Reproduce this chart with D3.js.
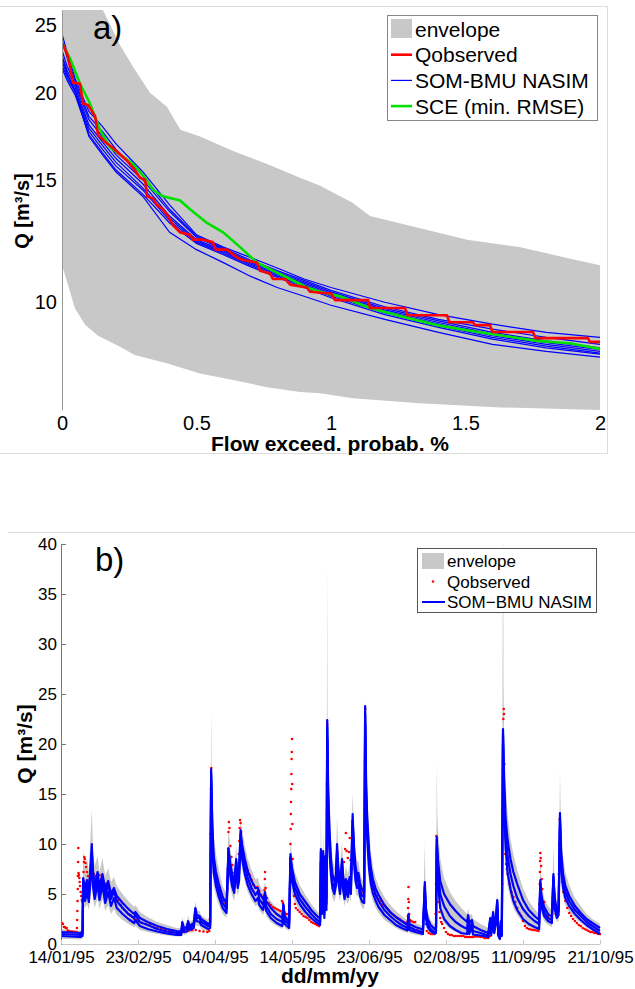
<!DOCTYPE html>
<html>
<head>
<meta charset="utf-8">
<script src="https://d3js.org/d3.v7.min.js"></script>
<style>
  body { margin: 0; background: #fff; }
  svg text { font-family: "Liberation Sans", Arial, sans-serif; fill: #000; }
</style>
</head>
<body>
<div id="container"></div>
<script>
// ---------- a) flow duration curves ----------
const fdcProb = [0, 0.02, 0.05, 0.1, 0.15, 0.2, 0.3, 0.4, 0.5, 0.6, 0.7, 0.8, 0.9, 1.0, 1.2, 1.4, 1.6, 1.8, 2.0];
// SOM-BMU NASIM runs (one row per run, values at fdcProb)
const fdcRuns = [
  [24.3, 22.8, 20.9, 18.8, 17.9, 16.9, 15.4, 13.8, 12.5, 12.0, 11.6, 11.2, 10.8, 10.5, 10.0, 9.6, 9.3, 9.05, 8.9],
  [23.8, 22.4, 20.7, 18.5, 17.6, 16.6, 15.2, 13.6, 12.45, 11.95, 11.5, 11.1, 10.75, 10.4, 9.85, 9.45, 9.15, 8.9, 8.7],
  [23.0, 21.8, 20.5, 18.3, 17.3, 16.3, 15.0, 13.5, 12.4, 11.9, 11.45, 11.05, 10.7, 10.35, 9.8, 9.4, 9.05, 8.8, 8.6],
  [22.6, 21.5, 20.3, 18.0, 17.0, 16.1, 14.8, 13.3, 12.3, 11.85, 11.4, 11.0, 10.65, 10.3, 9.75, 9.35, 9.0, 8.75, 8.55],
  [22.2, 21.2, 20.1, 17.8, 16.8, 15.9, 14.6, 13.2, 12.25, 11.8, 11.35, 10.95, 10.6, 10.25, 9.7, 9.3, 8.95, 8.7, 8.5],
  [21.9, 21.0, 20.0, 17.6, 16.6, 15.7, 14.5, 13.1, 12.2, 11.75, 11.3, 10.9, 10.55, 10.2, 9.65, 9.25, 8.9, 8.65, 8.45],
  [21.7, 20.8, 19.8, 17.4, 16.4, 15.5, 14.3, 13.0, 12.15, 11.7, 11.25, 10.85, 10.5, 10.15, 9.6, 9.2, 8.85, 8.6, 8.42],
  [22.5, 21.3, 20.0, 17.3, 16.3, 15.4, 14.2, 12.6, 11.9, 11.4, 10.9, 10.5, 10.2, 9.9, 9.45, 9.05, 8.7, 8.5, 8.34]
];
const qObsFdc = [[0,23.6],[0.02,22.7],[0.03,21.8],[0.04,20.7],[0.067,20.6],[0.078,19.3],[0.097,19.2],[0.123,18.5],[0.134,17.4],[0.16,17.0],[0.186,16.7],[0.216,16.3],[0.24,16.0],[0.264,15.6],[0.29,15.1],[0.309,15.0],[0.316,14.2],[0.338,14.1],[0.353,13.8],[0.375,13.6],[0.394,13.3],[0.413,12.9],[0.439,12.6],[0.476,12.5],[0.487,12.3],[0.524,12.3],[0.56,12.2],[0.572,11.9],[0.613,11.9],[0.65,11.6],[0.673,11.5],[0.725,11.4],[0.736,11.1],[0.773,11.0],[0.784,10.8],[0.829,10.8],[0.848,10.6],[0.91,10.5],[0.922,10.35],[0.985,10.3],[1.0,10.3],[1.015,10.07],[1.138,10.07],[1.145,9.81],[1.275,9.81],[1.285,9.58],[1.431,9.58],[1.44,9.36],[1.528,9.36],[1.535,9.27],[1.591,9.27],[1.6,9.06],[1.751,9.06],[1.76,8.88],[1.955,8.88],[1.962,8.77],[2.0,8.77]];
const sceFdc = [[0,23.6],[0.03,22.4],[0.067,20.6],[0.104,19.3],[0.141,17.7],[0.178,16.7],[0.216,16.3],[0.264,15.8],[0.309,15.1],[0.338,14.5],[0.375,14.2],[0.439,14.0],[0.476,13.6],[0.539,13.0],[0.599,12.6],[0.662,12.0],[0.725,11.4],[0.784,11.1],[0.848,10.8],[0.911,10.5],[0.959,10.35],[1.033,10.2],[1.145,9.81],[1.268,9.53],[1.394,9.27],[1.517,9.1],[1.639,8.95],[1.766,8.8],[1.888,8.73],[2.0,8.57]];
const envUpperFdc = [[0,60],[0.1,33],[0.152,26.3],[0.216,23.4],[0.264,21.8],[0.327,20.0],[0.39,19.1],[0.44,17.7],[0.513,17.3],[0.636,16.5],[0.762,15.8],[0.885,15.1],[0.96,14.7],[1.08,13.9],[1.145,13.3],[1.32,12.8],[1.506,12.3],[1.7,12.0],[1.89,11.55],[2.0,11.3]];
const envLowerFdc = [[0,11.3],[0.022,10.6],[0.048,9.8],[0.086,9.28],[0.134,8.95],[0.223,8.6],[0.27,8.4],[0.39,8.17],[0.513,7.9],[0.636,7.73],[0.762,7.55],[0.885,7.43],[0.96,7.4],[1.08,7.28],[1.33,7.16],[1.63,7.06],[2.0,7.0]];
const fdcTicksX = [0, 0.5, 1, 1.5, 2];
const fdcTicksY = [10, 15, 20, 25];

// ---------- b) hydrograph, days after 14/01/95 ----------
const dateTicks = ["1995-01-14", "1995-02-23", "1995-04-04", "1995-05-14", "1995-06-23", "1995-08-02", "1995-09-11", "1995-10-21"];
const qTicks = [0, 5, 10, 15, 20, 25, 30, 35, 40];

const simMid = [[0,1.0],[5,0.95],[10,0.9],[11.2,1.0],[11.5,6.3],[12.5,5.0],[13.5,6.0],[14.5,4.8],[16,10.0],[16.6,6.8],[17.5,5.2],[19,6.8],[20,5.0],[21.5,6.8],[23,4.8],[24.5,6.0],[26,4.5],[27.5,5.3],[29,4.3],[32,3.6],[35,3.0],[38,2.6],[38.6,2.9],[41,2.2],[45,1.9],[50,1.5],[55,1.25],[60,1.1],[62.5,1.1],[63,2.1],[63.8,1.4],[65.5,1.5],[66,2.2],[66.8,1.6],[69,1.9],[69.8,3.5],[70.5,2.6],[72,2.6],[72.8,2.2],[76.5,1.8],[77.5,1.9],[78,17.5],[78.6,11.0],[79.3,8.0],[80.5,6.5],[82,5.3],[84,4.1],[86,3.5],[87,9.6],[88,7.5],[89,6.3],[90,5.6],[91,8.5],[91.8,6.2],[92.5,7.0],[93.3,11.4],[94,9.4],[95.5,7.8],[97,6.6],[99,5.6],[101,4.9],[102.3,5.3],[103,4.5],[105,3.9],[106,5.2],[106.6,3.8],[109,3.0],[112,2.5],[115,2.2],[115.5,4.0],[116.2,2.4],[118.5,1.9],[119.2,9.0],[120,7.0],[121.5,5.6],[124,4.5],[127,3.7],[130,3.0],[133,2.4],[134.6,2.2],[135,9.2],[135.6,3.5],[136.2,9.3],[136.8,3.0],[137.4,8.5],[137.9,4.0],[138.3,22.4],[138.8,14.0],[139.5,10.2],[140.3,7.5],[141,6.2],[142,5.6],[142.8,6.5],[143.4,10.0],[144,7.0],[145,5.5],[146,8.5],[146.6,6.0],[147.3,5.0],[148,6.2],[149,5.3],[150,6.5],[150.6,5.6],[151.5,13.0],[152.2,9.0],[153,7.0],[153.8,6.2],[154.5,6.8],[155.3,5.4],[156.5,4.8],[157.5,4.7],[158,23.8],[158.5,15.0],[159,12.0],[160,8.5],[161,6.8],[162,5.8],[163.5,4.9],[165,4.3],[168,3.4],[171,2.8],[174,2.3],[177,1.9],[180,1.6],[180.5,3.0],[181,1.7],[184,1.4],[188,1.2],[189,6.2],[189.6,3.0],[190.5,2.0],[192,1.5],[194,1.2],[194.8,1.3],[195.2,10.7],[195.8,7.5],[197,5.0],[199,3.8],[202,2.8],[205,2.2],[208,1.8],[211,1.5],[211.5,2.7],[212,1.5],[213.5,2.1],[214,1.3],[218,1.1],[222,0.85],[223,2.5],[223.5,1.2],[224.5,3.0],[225,1.5],[226,2.5],[226.6,4.4],[227.2,1.0],[228,0.6],[228.5,2.0],[229,1.0],[229.6,21.5],[230.2,15.0],[231,11.0],[232,8.8],[233.5,7.0],[235,5.8],[237,4.6],[240,3.5],[243,2.8],[246,2.3],[248.4,2.0],[249,6.4],[249.6,4.3],[251,3.2],[253,2.6],[255,2.4],[255.8,7.0],[256.5,4.0],[257.6,3.0],[258.5,3.3],[259.2,13.1],[259.8,8.5],[260.8,6.3],[262,5.2],[264,4.3],[267,3.4],[270,2.8],[273,2.2],[276,1.8],[280,1.3]];

const simHigh = [[0,1.2],[5,1.15],[10,1.1],[11.2,1.2],[11.5,6.6],[12.5,5.6],[13.5,6.4],[14.5,5.4],[16,9.2],[16.6,7.3],[17.5,5.9],[19,7.2],[20,5.7],[21.5,7.0],[23,5.5],[24.5,6.3],[26,5.0],[27.5,5.6],[29,4.8],[32,4.1],[35,3.5],[38,3.0],[38.6,3.2],[41,2.6],[45,2.2],[50,1.8],[55,1.5],[60,1.3],[62.5,1.25],[63,2.2],[63.8,1.6],[65.5,1.7],[66,2.3],[66.8,1.8],[69,2.1],[69.8,3.6],[70.5,2.9],[72,2.8],[72.8,2.5],[76.5,2.0],[77.5,2.1],[78,17.0],[78.6,12.0],[79.3,8.8],[80.5,7.2],[82,6.0],[84,4.7],[86,4.0],[87,9.3],[88,8.0],[89,6.9],[90,6.2],[91,8.2],[91.8,6.8],[92.5,7.4],[93.3,11.0],[94,10.0],[95.5,8.5],[97,7.3],[99,6.3],[101,5.6],[102.3,5.6],[103,5.1],[105,4.5],[106,5.0],[106.6,4.3],[109,3.6],[112,3.0],[115,2.6],[115.5,3.9],[116.2,2.8],[118.5,2.2],[119.2,8.7],[120,7.6],[121.5,6.2],[124,5.0],[127,4.2],[130,3.4],[133,2.8],[134.6,2.5],[135,9.5],[135.6,4.2],[136.2,9.0],[136.8,3.8],[137.4,8.8],[137.9,4.6],[138.3,21.8],[138.8,15.5],[139.5,11.2],[140.3,8.4],[141,7.0],[142,6.3],[142.8,6.8],[143.4,9.4],[144,7.7],[145,6.2],[146,8.2],[146.6,6.7],[147.3,5.7],[148,6.5],[149,5.9],[150,6.7],[150.6,6.2],[151.5,12.4],[152.2,9.8],[153,7.8],[153.8,6.9],[154.5,7.1],[155.3,6.1],[156.5,5.4],[157.5,5.2],[158,23.0],[158.5,16.2],[159,13.0],[160,9.4],[161,7.6],[162,6.5],[163.5,5.5],[165,4.9],[168,3.9],[171,3.2],[174,2.7],[177,2.3],[180,1.9],[180.5,2.8],[181,2.0],[184,1.7],[188,1.45],[189,5.8],[189.6,3.5],[190.5,2.5],[192,1.9],[194,1.5],[194.8,1.6],[195.2,10.2],[195.8,8.5],[197,6.3],[199,5.0],[202,4.0],[205,3.3],[208,2.7],[211,2.2],[211.5,2.9],[212,2.1],[213.5,2.4],[214,1.8],[218,1.4],[222,1.1],[223,2.6],[223.5,1.5],[224.5,3.2],[225,1.9],[226,2.8],[226.6,4.3],[227.2,1.4],[228,0.9],[228.5,2.3],[229,1.3],[229.6,21.0],[230.2,16.5],[231,12.5],[232,10.4],[233.5,8.5],[235,7.2],[237,6.0],[240,4.4],[243,3.4],[246,2.8],[248.4,2.4],[249,6.1],[249.6,4.8],[251,3.7],[253,3.0],[255,2.7],[255.8,6.7],[256.5,4.5],[257.6,3.4],[258.5,3.6],[259.2,12.6],[259.8,9.3],[260.8,7.0],[262,5.8],[264,4.8],[267,3.8],[270,3.1],[273,2.5],[276,2.1],[280,1.6]];

const simLow = [[0,0.8],[5,0.75],[10,0.7],[11.2,0.8],[11.5,5.8],[12.5,4.3],[13.5,5.2],[14.5,4.2],[16,8.5],[16.6,5.8],[17.5,4.5],[19,6.0],[20,4.4],[21.5,5.9],[23,4.1],[24.5,5.2],[26,3.8],[27.5,4.6],[29,3.6],[32,3.0],[35,2.5],[38,2.1],[38.6,2.4],[41,1.8],[45,1.5],[50,1.25],[55,1.05],[60,0.9],[62.5,0.9],[63,1.8],[63.8,1.2],[65.5,1.25],[66,1.9],[66.8,1.4],[69,1.6],[69.8,3.0],[70.5,2.3],[72,2.2],[72.8,1.9],[76.5,1.5],[77.5,1.6],[78,16.2],[78.6,10.0],[79.3,7.2],[80.5,5.8],[82,4.7],[84,3.6],[86,3.1],[87,8.6],[88,6.8],[89,5.7],[90,5.1],[91,7.5],[91.8,5.6],[92.5,6.3],[93.3,10.5],[94,8.6],[95.5,7.0],[97,5.9],[99,5.0],[101,4.3],[102.3,4.6],[103,3.9],[105,3.4],[106,4.4],[106.6,3.3],[109,2.6],[112,2.1],[115,1.8],[115.5,3.4],[116.2,2.0],[118.5,1.6],[119.2,8.2],[120,6.3],[121.5,5.0],[124,4.0],[127,3.2],[130,2.6],[133,2.1],[134.6,1.9],[135,8.2],[135.6,3.0],[136.2,8.4],[136.8,2.6],[137.4,7.6],[137.9,3.4],[138.3,20.5],[138.8,12.5],[139.5,9.2],[140.3,6.8],[141,5.6],[142,5.0],[142.8,5.8],[143.4,8.8],[144,6.3],[145,5.0],[146,7.6],[146.6,5.4],[147.3,4.5],[148,5.5],[149,4.7],[150,5.8],[150.6,5.0],[151.5,11.8],[152.2,8.2],[153,6.3],[153.8,5.6],[154.5,6.0],[155.3,4.8],[156.5,4.2],[157.5,4.1],[158,22.0],[158.5,13.8],[159,10.8],[160,7.6],[161,6.0],[162,5.1],[163.5,4.3],[165,3.7],[168,2.9],[171,2.4],[174,1.9],[177,1.6],[180,1.35],[180.5,2.5],[181,1.4],[184,1.2],[188,1.0],[189,5.3],[189.6,2.5],[190.5,1.7],[192,1.3],[194,1.05],[194.8,1.1],[195.2,9.6],[195.8,6.2],[197,3.6],[199,2.5],[202,1.8],[205,1.4],[208,1.1],[211,1.0],[211.5,2.2],[212,1.0],[213.5,1.7],[214,0.95],[218,0.85],[222,0.7],[223,2.1],[223.5,0.9],[224.5,2.5],[225,1.1],[226,2.1],[226.6,3.8],[227.2,0.8],[228,0.5],[228.5,1.6],[229,0.8],[229.6,20.0],[230.2,13.5],[231,9.5],[232,7.1],[233.5,5.5],[235,4.3],[237,3.4],[240,2.5],[243,2.0],[246,1.7],[248.4,1.5],[249,5.6],[249.6,3.7],[251,2.8],[253,2.3],[255,2.1],[255.8,6.1],[256.5,3.5],[257.6,2.6],[258.5,2.9],[259.2,11.8],[259.8,7.7],[260.8,5.6],[262,4.6],[264,3.8],[267,3.0],[270,2.4],[273,1.9],[276,1.5],[280,1.0]];

const envUpper = [[0,1.5],[5,1.4],[10,1.35],[11.2,1.5],[11.5,9.5],[12.5,7.5],[13.5,8.6],[14.5,7.2],[16,13.5],[16.6,9.4],[17.5,7.8],[19,8.8],[20,7.2],[21.5,8.6],[23,6.8],[24.5,7.6],[26,6.2],[27.5,6.7],[29,5.8],[32,5.0],[35,4.3],[38,3.7],[38.6,3.9],[41,3.2],[45,2.7],[50,2.2],[55,1.9],[60,1.6],[62.5,1.6],[63,2.7],[63.8,2.0],[65.5,2.1],[66,2.9],[66.8,2.2],[69,2.5],[69.8,4.3],[70.5,3.4],[72,3.3],[72.8,2.9],[76.5,2.4],[77.5,2.6],[78,23.6],[78.3,17],[78.6,15.0],[79.3,11.0],[80.5,9.0],[82,7.4],[84,5.8],[86,5.0],[87,11.8],[88,9.5],[89,8.2],[90,7.3],[91,9.8],[91.8,7.8],[92.5,8.4],[93.3,12.6],[94,11.5],[95.5,9.8],[97,8.5],[99,7.4],[101,6.5],[102.3,6.6],[103,6.0],[105,5.3],[106,6.2],[106.6,5.0],[109,4.3],[112,3.6],[115,3.2],[115.5,4.8],[116.2,3.3],[118.5,2.7],[119.2,10.6],[120,8.8],[121.5,7.2],[124,5.9],[127,4.9],[130,4.0],[133,3.3],[134.6,3.0],[135,13.2],[135.6,5.5],[136.2,11.5],[136.8,5.0],[137.4,10.8],[137.9,6.0],[138.3,38.1],[138.5,22],[138.8,17],[139.5,14.0],[140.3,10.5],[141,8.6],[142,7.6],[142.8,8.2],[143.4,12.7],[144,9.4],[145,7.6],[146,10.2],[146.6,8.0],[147.3,6.8],[148,7.8],[149,7.0],[150,8.0],[150.6,7.2],[151.5,15.2],[152.2,11.6],[153,9.2],[153.8,8.2],[154.5,8.4],[155.3,7.2],[156.5,6.4],[157.5,6.2],[158,24.7],[158.5,19.0],[159,15.5],[160,11.5],[161,9.2],[162,7.8],[163.5,6.6],[165,5.8],[168,4.7],[171,3.9],[174,3.3],[177,2.8],[180,2.4],[180.5,3.6],[181,2.5],[184,2.1],[188,1.8],[189,10.1],[189.4,5],[189.6,4.6],[190.5,3.2],[192,2.4],[194,1.9],[194.8,2.0],[195.2,18.1],[195.5,13],[195.8,11.5],[197,8.5],[199,6.6],[202,5.2],[205,4.3],[208,3.6],[211,3.0],[211.5,3.6],[212,2.9],[213.5,3.0],[214,2.5],[218,2.0],[222,1.6],[223,3.2],[223.5,2.0],[224.5,3.8],[225,2.5],[226,3.4],[226.6,5.3],[227.2,2.0],[228,1.3],[228.5,2.9],[229,1.9],[229.6,45],[229.9,26],[230.2,21.0],[231,16.0],[232,13.0],[233.5,10.5],[235,9.0],[237,7.4],[240,5.6],[243,4.3],[246,3.5],[248.4,3.0],[249,9.3],[249.6,6.0],[251,4.6],[253,3.8],[255,3.4],[255.8,9.7],[256.5,5.6],[257.6,4.3],[258.5,4.5],[259.2,17.3],[259.6,13],[259.8,12.0],[260.8,8.8],[262,7.2],[264,5.9],[267,4.6],[270,3.8],[273,3.0],[276,2.5],[280,2.0]];

const envLower = [[0,0.5],[5,0.5],[10,0.45],[11.2,0.5],[11.5,4.0],[12.5,3.6],[13.5,4.0],[14.5,3.4],[16,6.0],[16.6,4.5],[17.5,3.6],[19,4.6],[20,3.5],[21.5,4.5],[23,3.3],[24.5,3.9],[26,3.0],[27.5,3.5],[29,2.9],[32,2.4],[35,2.0],[38,1.7],[38.6,1.8],[41,1.4],[45,1.2],[50,1.0],[55,0.85],[60,0.75],[62.5,0.75],[63,1.2],[63.8,0.9],[65.5,1.0],[66,1.3],[66.8,1.1],[69,1.2],[69.8,2.2],[70.5,1.8],[72,1.8],[72.8,1.5],[76.5,1.2],[77.5,1.2],[78,11.0],[78.6,7.5],[79.3,5.8],[80.5,4.8],[82,3.9],[84,3.0],[86,2.6],[87,7.0],[88,5.6],[89,4.8],[90,4.3],[91,6.0],[91.8,4.8],[92.5,5.4],[93.3,8.8],[94,7.6],[95.5,6.2],[97,5.2],[99,4.4],[101,3.8],[102.3,3.9],[103,3.4],[105,2.9],[106,3.5],[106.6,2.8],[109,2.2],[112,1.8],[115,1.5],[115.5,2.5],[116.2,1.6],[118.5,1.3],[119.2,6.0],[120,5.0],[121.5,4.2],[124,3.4],[127,2.8],[130,2.2],[133,1.8],[134.6,1.6],[135,6.0],[135.6,2.4],[136.2,6.2],[136.8,2.2],[137.4,5.6],[137.9,2.8],[138.3,14.0],[138.8,9.5],[139.5,7.2],[140.3,5.6],[141,4.6],[142,4.2],[142.8,4.8],[143.4,6.8],[144,5.2],[145,4.2],[146,5.8],[146.6,4.5],[147.3,3.8],[148,4.4],[149,4.0],[150,4.6],[150.6,4.2],[151.5,9.0],[152.2,6.6],[153,5.3],[153.8,4.7],[154.5,5.0],[155.3,4.1],[156.5,3.6],[157.5,3.5],[158,15.0],[158.5,10.5],[159,8.5],[160,6.2],[161,5.0],[162,4.3],[163.5,3.6],[165,3.1],[168,2.4],[171,2.0],[174,1.6],[177,1.3],[180,1.1],[180.5,1.8],[181,1.1],[184,0.95],[188,0.8],[189,3.8],[189.6,1.9],[190.5,1.3],[192,1.0],[194,0.85],[194.8,0.9],[195.2,7.0],[195.8,4.8],[197,3.0],[199,2.1],[202,1.5],[205,1.2],[208,0.9],[211,0.8],[211.5,1.4],[212,0.8],[213.5,1.2],[214,0.75],[218,0.65],[222,0.5],[223,1.3],[223.5,0.6],[224.5,1.5],[225,0.8],[226,1.3],[226.6,2.5],[227.2,0.5],[228,0.35],[228.5,1.0],[229,0.5],[229.6,14.0],[230.2,10.5],[231,8.0],[232,5.8],[233.5,4.5],[235,3.6],[237,2.9],[240,2.1],[243,1.7],[246,1.4],[248.4,1.2],[249,4.0],[249.6,3.0],[251,2.3],[253,1.9],[255,1.7],[255.8,4.3],[256.5,2.8],[257.6,2.2],[258.5,2.3],[259.2,8.5],[259.8,6.2],[260.8,4.7],[262,3.9],[264,3.2],[267,2.6],[270,2.1],[273,1.6],[276,1.3],[280,0.9]];

const qObs = [[0,2.1],[0.5,2.1],[1,2.0],[1.5,1.7],[2,1.7],[2.5,1.6],[3,1.6],[3.5,1.35],[4,1.3],[5,1.25],[6,1.25],[7,1.2],[8,1.2],
[8.3,1.6],[8.4,2.4],[8.5,3.3],[8.6,4.3],[8.7,5.5],[8.8,6.8],[8.9,8.2],[9.0,9.6],[9.1,7.1],[9.3,6.9],[9.5,6.6],[9.7,6.2],[9.9,5.8],[10.2,5.2],[10.5,4.8],[10.8,4.4],[11.1,4.2],
[11.5,6.0],[11.7,7.2],[11.9,8.2],[12.1,8.7],[12.4,8.5],[12.7,8.1],[13,7.7],[13.5,7.2],[14,6.8],[15,6.5],[16,7.4],[17,7.0],[18,6.8],[19,7.0],[20,6.9],[21,6.2],[22,6.2],[23,6.0],[24,6.1],[25,5.6],[26,5.2],[27,5.0],[28,4.9],[29,4.4],[30,4.4],[31,3.9],[32,3.6],[33,3.4],[34,3.2],[35,3.0],[36,2.9],[37,2.7],[38,2.5],[39,2.4],[40,2.3],[42,2.1],[44,2.0],[46,1.9],[48,1.7],[50,1.6],[52,1.5],[54,1.4],[56,1.3],[58,1.2],[60,1.1],[62,1.1],[64,1.2],[66,1.3],[68,1.4],[70,1.4],[72,1.3],[74,1.25],[76,1.2],[77,1.3],
[77.3,2.5],[77.5,6],[77.7,11],[77.9,15.5],[78.1,17.6],[78.4,13],[78.8,10],[79.2,8.6],[79.6,7.6],[80,6.9],[81,6.1],[82,5.4],[83,4.7],[84,4.3],[85,4.0],[86,3.8],
[86.4,5.5],[86.6,7.5],[86.8,9.5],[87,11.2],[87.2,12.2],[87.5,11.6],[88,9.8],[88.5,8.7],[89,7.9],[90,7.1],[91,8.1],[92,7.6],
[92.4,9],[92.6,10.3],[92.8,11.6],[93,12.4],[93.3,12.1],[93.6,11.2],[94,10.2],[95,9.0],[96,8.1],[97,7.4],[98,6.9],[99,6.4],[100,5.9],[101,5.6],[102,5.7],[103,5.3],[104,4.9],[105,4.6],
[105.7,5.4],[105.9,6.5],[106,7.2],[106.3,5.6],[107,4.6],[108,4.1],[109,3.9],[110,3.7],[111,3.6],[112,3.5],[113,3.4],[114,3.3],[114.8,4.3],[115.3,4.1],[116,3.2],[117,3.0],[118,3.0],
[118.7,3.8],[118.9,5.5],[119,7],[119.1,8.5],[119.2,10],[119.3,11.5],[119.4,13],[119.5,14.2],[119.6,15.5],[119.7,17],[119.8,18.5],[119.9,19.2],[120,20.5],[120.1,16],[120.2,12],[120.4,8.5],[120.7,6],[121,4.8],[121.5,4.0],[122,3.6],[123,3.4],[124,3.2],[125,3.0],[126,2.8],[127,2.7],[128,2.6],[129,2.4],[130,2.2],[131,2.1],[132,2.0],[133,1.9],[134,1.8],
[135,8.0],[135.5,4],[136,8.6],[136.6,3.4],[137.3,8.0],[137.8,4.2],[138.1,16],[138.3,22.0],[138.6,15],[139,11.5],[139.5,9.8],[140.3,7.6],[141,6.5],[142,5.9],[143,7.8],[143.5,9.2],[144,7.0],[145,5.8],[146,7.6],[147,8.2],[147.6,9.5],[148,11.1],[148.4,9.3],[149,8.6],[149.6,9.2],[150,10.6],[150.4,8.4],[151,7.5],[151.5,12.2],[152,9.5],[153,7.5],[154,6.6],[155,6.0],[156,5.5],[157,5.2],
[157.7,12],[158,23.5],[158.3,18],[158.7,13.5],[159,11.5],[160,8.5],[161,6.8],[162,5.6],[163,5.0],[164,4.8],[165,4.5],[166,4.3],[167,4.0],[168,3.8],[169,3.6],[170,3.4],[171,3.2],[172,3.0],[173,2.85],[174,2.7],[175,2.55],[176,2.45],[177,2.3],[178,2.2],[179,2.1],
[180,2.2],[180.2,2.8],[180.3,3.6],[180.4,4.5],[180.5,5.7],[180.7,4.2],[180.9,3.0],[181.2,2.4],[181.5,2.3],[182,2.3],[183,2.2],[184,2.2],[185,1.4],[186,1.2],[187,1.1],[188,1.1],[189,3.5],[189.5,2.0],[190,1.3],[191,1.1],[192,1.0],[193,1.0],[194,1.0],
[194.6,3],[194.8,6],[195,10.8],[195.2,10.4],[195.5,8.5],[195.8,6.0],[196.2,4.2],[196.6,3.2],[197,2.6],[197.5,2.2],[198,2.0],[199,1.6],[200,1.2],[201,1.0],[202,0.9],[203,0.9],[204,0.8],[205,0.8],[206,0.8],[207,0.8],[208,0.8],[209,0.8],[210,0.7],[211,0.7],[212,0.7],[213,0.7],[214,0.7],[215,0.75],[216,0.75],[217,0.75],[218,0.7],[219,0.7],[220,0.6],[221,0.6],[222,0.6],[223,0.8],[224,1.5],[225,1.2],[226,2.0],[227,1.0],[228,0.8],[229,2.0],
[229.2,6],[229.4,12],[229.6,18],[229.8,22.5],[230,23.5],[230.1,23.0],[230.3,18],[230.5,12],[230.8,9],[231.2,8],[231.6,7.5],[232,7.0],[233,6.0],[234,5.2],[235,4.7],[236,4.2],[237,3.6],[238,3.1],[239,2.8],[240,2.3],[241,1.8],[242,1.6],[243,1.5],[244,1.45],[245,1.4],[246,1.4],[247,1.35],[248,1.3],
[248.5,4],[248.7,6],[248.8,7.2],[248.9,8.3],[249,9.1],[249.2,8.6],[249.4,7.8],[249.7,6.5],[250,5.5],[251,4.2],[252,3.3],[253,2.8],[254,2.5],[255,2.3],[255.6,5.5],[256,4.3],[257,3.0],[258,2.8],
[258.6,7],[258.9,10],[259.1,12.5],[259.4,10],[259.8,8],[260.4,6.2],[261,5.2],[262,4.3],[263,3.6],[264,3.1],[265,2.8],[266,2.5],[267,2.3],[268,2.1],[269,1.9],[270,1.8],[271,1.6],[272,1.5],[273,1.4],[274,1.3],[275,1.2],[276,1.2],[277,1.1],[278,1.1],[279,1.0],[280,1.0]];

const W = 635, H = 989;
const ENV = "#c8c8c8", RED = "#ff0000", BLUE = "#0000ff", GREEN = "#00e000";

const svg = d3.select("#container").append("svg")
  .attr("width", W).attr("height", H);

// light frames of the two panels
svg.append("path").attr("d", "M0,6.5H607.5V453.5H0")
  .attr("fill", "none").attr("stroke", "#dcdcdc");
svg.append("path").attr("d", "M8,532.5H635")
  .attr("fill", "none").attr("stroke", "#dcdcdc");

// ================= panel a =================
const pa = { left: 62, right: 600, top: 10, bottom: 410 };
const xA = d3.scaleLinear().domain([0, 2]).range([pa.left, pa.right]);
const yA = d3.scaleLog().domain([7, 26.3]).range([pa.bottom, pa.top]);

svg.append("clipPath").attr("id", "clipA").append("rect")
  .attr("x", pa.left).attr("y", pa.top)
  .attr("width", pa.right - pa.left).attr("height", pa.bottom - pa.top);

const gA = svg.append("g").attr("clip-path", "url(#clipA)");
const lineA = d3.line().x((d) => xA(d[0])).y((d) => yA(d[1]));

gA.append("path")
  .attr("d", lineA(envUpperFdc.concat(envLowerFdc.slice().reverse())) + "Z")
  .attr("fill", ENV);

fdcRuns.forEach((run) => {
  gA.append("path")
    .datum(fdcProb.map((p, i) => [p, run[i]]))
    .attr("fill", "none").attr("stroke", BLUE).attr("stroke-width", 1.2)
    .attr("d", lineA);
});
gA.append("path").datum(sceFdc)
  .attr("fill", "none").attr("stroke", GREEN).attr("stroke-width", 2.6)
  .attr("d", lineA);
gA.append("path").datum(qObsFdc)
  .attr("fill", "none").attr("stroke", RED).attr("stroke-width", 2.6)
  .attr("stroke-linejoin", "round")
  .attr("d", lineA);

const yAxisA = svg.append("g").attr("transform", `translate(${pa.left},0)`)
  .call(d3.axisLeft(yA).tickValues(fdcTicksY).tickFormat(d3.format("d"))
    .tickSize(0).tickPadding(5));
yAxisA.select(".domain").attr("stroke", "#999");
yAxisA.selectAll("text").attr("font-size", 20);

const xAxisA = svg.append("g").attr("transform", `translate(0,${pa.bottom})`)
  .call(d3.axisBottom(xA).tickValues(fdcTicksX).tickFormat((d) => String(d))
    .tickSize(0).tickPadding(6));
xAxisA.select(".domain").remove();
xAxisA.selectAll("text").attr("font-size", 20);

svg.append("text").attr("x", 93).attr("y", 39)
  .attr("font-size", 33).text("a)");
svg.append("text").attr("x", 330).attr("y", 451)
  .attr("text-anchor", "middle").attr("font-size", 21).attr("font-weight", "bold")
  .text("Flow exceed. probab. %");
svg.append("text")
  .attr("transform", "translate(29,211) rotate(-90)")
  .attr("text-anchor", "middle").attr("font-size", 20).attr("font-weight", "bold")
  .text("Q [m³/s]");

// legend a
const legA = svg.append("g");
legA.append("rect").attr("x", 387.5).attr("y", 15.5).attr("width", 210).attr("height", 105)
  .attr("fill", "#fff").attr("stroke", "#888");
const legAItems = [
  { name: "envelope", kind: "patch", color: ENV },
  { name: "Qobserved", kind: "line", color: RED, w: 2.6 },
  { name: "SOM-BMU NASIM", kind: "line", color: BLUE, w: 1.2 },
  { name: "SCE (min. RMSE)", kind: "line", color: GREEN, w: 2.6 }
];
legAItems.forEach((it, i) => {
  const cy = 29 + i * 25.7;
  if (it.kind === "patch") {
    legA.append("rect").attr("x", 391).attr("y", cy - 10).attr("width", 21).attr("height", 19)
      .attr("fill", it.color);
  } else {
    legA.append("line").attr("x1", 391).attr("x2", 412).attr("y1", cy).attr("y2", cy)
      .attr("stroke", it.color).attr("stroke-width", it.w);
  }
  legA.append("text").attr("x", 415).attr("y", cy + 7.5).attr("font-size", 21).text(it.name);
});

// ================= panel b =================
const pb = { left: 61, right: 600, top: 544, bottom: 944 };
const day0 = new Date(dateTicks[0]);
const toDate = (d) => new Date(day0.getTime() + d * 864e5);
const xB = d3.scaleUtc().domain([toDate(0), toDate(280)]).range([pb.left, pb.right]);
const yB = d3.scaleLinear().domain([0, 40]).range([pb.bottom, pb.top]);

svg.append("clipPath").attr("id", "clipB").append("rect")
  .attr("x", pb.left).attr("y", pb.top)
  .attr("width", pb.right - pb.left + 1).attr("height", pb.bottom - pb.top);

const gB = svg.append("g").attr("clip-path", "url(#clipB)");
const lineB = d3.line().x((d) => xB(toDate(d[0]))).y((d) => yB(d[1]));

gB.append("path")
  .attr("d", lineB(envUpper.concat(envLower.slice().reverse())) + "Z")
  .attr("fill", ENV);

gB.selectAll(".obs").data(qObs).join("circle")
  .attr("class", "obs")
  .attr("cx", (d) => xB(toDate(d[0]))).attr("cy", (d) => yB(d[1]))
  .attr("r", 1.3).attr("fill", RED);

[simHigh, simLow, simMid].forEach((run) => {
  gB.append("path").datum(run)
    .attr("fill", "none").attr("stroke", BLUE).attr("stroke-width", 2.2)
    .attr("stroke-linejoin", "round")
    .attr("d", lineB);
});

const yAxisB = svg.append("g").attr("transform", `translate(${pb.left},0)`)
  .call(d3.axisLeft(yB).tickValues(qTicks).tickSize(-5).tickSizeOuter(0).tickPadding(4));
yAxisB.select(".domain").attr("stroke", "#777");
yAxisB.selectAll(".tick line").attr("stroke", "#777");
yAxisB.selectAll("text").attr("font-size", 17);

const xAxisB = svg.append("g").attr("transform", `translate(0,${pb.bottom})`)
  .call(d3.axisBottom(xB).tickValues(dateTicks.map((s) => new Date(s)))
    .tickFormat(d3.utcFormat("%d/%m/%y")).tickSize(-4).tickSizeOuter(0).tickPadding(7));
xAxisB.select(".domain").attr("stroke", "#c8c8c8");
xAxisB.selectAll(".tick line").attr("stroke", "#c8c8c8");
xAxisB.selectAll("text").attr("font-size", 17);

svg.append("text").attr("x", 95).attr("y", 571)
  .attr("font-size", 33).text("b)");
svg.append("text").attr("x", 330).attr("y", 983)
  .attr("text-anchor", "middle").attr("font-size", 21).attr("font-weight", "bold")
  .text("dd/mm/yy");
svg.append("text")
  .attr("transform", "translate(32,744) rotate(-90)")
  .attr("text-anchor", "middle").attr("font-size", 21).attr("font-weight", "bold")
  .text("Q [m³/s]");

// legend b
const legB = svg.append("g");
legB.append("rect").attr("x", 417.5).attr("y", 548.5).attr("width", 179).attr("height", 64)
  .attr("fill", "#fff").attr("stroke", "#555");
const legBItems = [
  { name: "envelope", kind: "patch", color: ENV },
  { name: "Qobserved", kind: "dot", color: RED },
  { name: "SOM\u2212BMU NASIM", kind: "line", color: BLUE }
];
legBItems.forEach((it, i) => {
  const cy = 561 + i * 20.5;
  if (it.kind === "patch") {
    legB.append("rect").attr("x", 422).attr("y", cy - 8).attr("width", 22).attr("height", 16)
      .attr("fill", it.color);
  } else if (it.kind === "dot") {
    legB.append("circle").attr("cx", 433).attr("cy", cy).attr("r", 1.2).attr("fill", it.color);
  } else {
    legB.append("line").attr("x1", 422).attr("x2", 445).attr("y1", cy).attr("y2", cy)
      .attr("stroke", it.color).attr("stroke-width", 2);
  }
  legB.append("text").attr("x", 447).attr("y", cy + 6).attr("font-size", 17).text(it.name);
});
</script>
</body>
</html>
